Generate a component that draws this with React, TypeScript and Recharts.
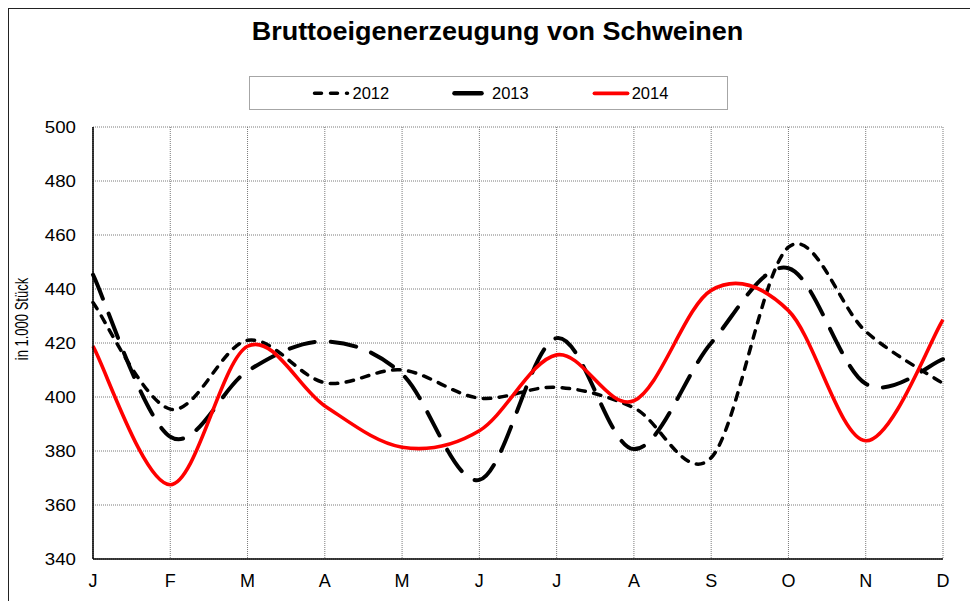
import React from 'react';
import { LineChart, Line, XAxis, YAxis, CartesianGrid, Legend } from 'recharts';

const months = ['J', 'F', 'M', 'A', 'M', 'J', 'J', 'A', 'S', 'O', 'N', 'D'];
const s2012 = [435, 395.5, 421, 405.3, 410, 399.6, 403.6, 396, 377.5, 455.5, 424.3, 405];
const s2013 = [445.3, 385.3, 409.6, 420.6, 408.5, 369.3, 421.8, 380.7, 420, 447.7, 404.9, 414];
const s2014 = [418.8, 367.5, 418.8, 396.7, 381.4, 387.5, 415.6, 398.6, 439.5, 432, 383.8, 428.6];
const yTicks = [340, 360, 380, 400, 420, 440, 460, 480, 500];

const data = months.map((m, i) => ({ m, y2012: s2012[i], y2013: s2013[i], y2014: s2014[i] }));

const FONT = '"Liberation Sans", Arial, sans-serif';

// Excel-like smoothing (Catmull-Rom style Bezier through every point)
const excelCurve = (context: any) => {
  let pts: number[][] = [];
  return {
    areaStart() {},
    areaEnd() {},
    lineStart() {
      pts = [];
    },
    point(x: number, y: number) {
      pts.push([+x, +y]);
    },
    lineEnd() {
      const n = pts.length;
      if (!n) return;
      context.moveTo(pts[0][0], pts[0][1]);
      for (let i = 0; i < n - 1; i++) {
        const p0 = pts[Math.max(i - 1, 0)];
        const p1 = pts[i];
        const p2 = pts[i + 1];
        const p3 = pts[Math.min(i + 2, n - 1)];
        const c1x = p1[0] + (p2[0] - p0[0]) / 6;
        const c1y = p1[1] + (p2[1] - p0[1]) / 6;
        const c2x = p2[0] - (p3[0] - p1[0]) / 6;
        const c2y = p2[1] - (p3[1] - p1[1]) / 6;
        context.bezierCurveTo(c1x, c1y, c2x, c2y, p2[0], p2[1]);
      }
    },
  };
};

const YTick = (props: any) => {
  const { x, y, payload } = props;
  return (
    <g transform={`translate(${x},${y}) scale(1.1,1)`}>
      <text x={0} y={0} dy="0.36em" textAnchor="end" fontSize={17} fontFamily={FONT} fill="#000">
        {payload.value}
      </text>
    </g>
  );
};

const XTick = (props: any) => {
  const { x, y, payload } = props;
  return (
    <text x={x} y={y} dy="0.36em" textAnchor="middle" fontSize={18} fontFamily={FONT} fill="#000">
      {payload.value}
    </text>
  );
};

const legendItems = [
  { name: '2012', color: '#000', width: 3.5, dash: '7 9', x1: 65.5, x2: 98.5, tx: 103.5 },
  { name: '2013', color: '#000', width: 4.5, dash: undefined, x1: 205.5, x2: 232.5, tx: 243 },
  { name: '2014', color: '#ff0000', width: 3.8, dash: undefined, x1: 345.5, x2: 378.5, tx: 382.7 },
];

const LegendBox = () => (
  <svg width={479} height={34} style={{ display: 'block' }}>
    <rect x={0.5} y={0.5} width={478} height={33} fill="#fff" stroke="#a6a6a6" />
    {legendItems.map((it) => (
      <g key={it.name}>
        <line
          x1={it.x1}
          x2={it.x2}
          y1={17.3}
          y2={17.3}
          stroke={it.color}
          strokeWidth={it.width}
          strokeDasharray={it.dash}
          strokeLinecap="round"
        />
        <text x={it.tx} y={23.3} fontSize={16.5} fontFamily={FONT} fill="#000">
          {it.name}
        </text>
      </g>
    ))}
  </svg>
);

export default function App() {
  return (
    <div
      style={{
        position: 'relative',
        width: 970,
        height: 593,
        boxSizing: 'border-box',
        borderLeft: '1px solid #222',
        borderTop: '1px solid #222',
        background: '#fff',
        overflow: 'hidden',
      }}
    >
      <svg width={969} height={60} style={{ position: 'absolute', left: 0, top: 0 }}>
        <g transform="translate(488.5,31) scale(1.08,1)">
          <text x={0} y={0} textAnchor="middle" fontSize={25} fontWeight="bold" fontFamily={FONT} fill="#000">
            Bruttoeigenerzeugung von Schweinen
          </text>
        </g>
      </svg>
      <svg width={40} height={592} style={{ position: 'absolute', left: 0, top: 0 }}>
        <g transform="translate(12.5,310) rotate(-90) scale(0.84,1.15)">
          <text x={0} y={0} dy="0.35em" textAnchor="middle" fontSize={15.5} fontFamily={FONT} fill="#000">
            in 1.000 Stück
          </text>
        </g>
      </svg>
      <div style={{ position: 'absolute', left: 0, top: 0 }}>
        <LineChart width={969} height={592} data={data} margin={{ top: 118, right: 35, bottom: 12, left: 0 }}>
          <CartesianGrid stroke="#7a7a7a" strokeDasharray="1 1" />
          <XAxis
            dataKey="m"
            interval={0}
            allowDuplicatedCategory={true}
            height={30}
            tickLine={false}
            tickSize={0}
            tickMargin={22}
            tick={<XTick />}
            axisLine={{ stroke: '#000', strokeWidth: 1.5 }}
            padding={{ left: 0, right: 0 }}
          />
          <XAxis
            xAxisId="top"
            orientation="top"
            dataKey="m"
            height={0}
            tick={false}
            tickLine={false}
            axisLine={{ stroke: '#8c8c8c', strokeWidth: 1 }}
          />
          <YAxis
            domain={[340, 500]}
            ticks={yTicks}
            interval={0}
            width={84}
            tickLine={false}
            tickSize={0}
            tickMargin={17}
            tick={<YTick />}
            axisLine={{ stroke: '#000', strokeWidth: 1.5 }}
            allowDataOverflow={true}
          />
          <YAxis
            yAxisId="right"
            orientation="right"
            domain={[340, 500]}
            width={0}
            tick={false}
            tickLine={false}
            axisLine={{ stroke: '#8c8c8c', strokeWidth: 1 }}
          />
          <Legend
            layout="horizontal"
            verticalAlign="middle"
            align="center"
            content={<LegendBox />}
            wrapperStyle={{ top: 67, left: 240, width: 479, height: 34 }}
          />
          <Line
            dataKey="y2012"
            name="2012"
            type={excelCurve as any}
            stroke="#000"
            strokeWidth={3.5}
            strokeDasharray="7.5 8.5"
            strokeLinecap="round"
            dot={false}
            activeDot={false}
            isAnimationActive={false}
          />
          <Line
            dataKey="y2013"
            name="2013"
            type={excelCurve as any}
            stroke="#000"
            strokeWidth={4}
            strokeDasharray="26 16"
            strokeLinecap="round"
            dot={false}
            activeDot={false}
            isAnimationActive={false}
          />
          <Line
            dataKey="y2014"
            name="2014"
            type={excelCurve as any}
            stroke="#ff0000"
            strokeWidth={3.6}
            dot={false}
            activeDot={false}
            isAnimationActive={false}
          />
        </LineChart>
      </div>
    </div>
  );
}
